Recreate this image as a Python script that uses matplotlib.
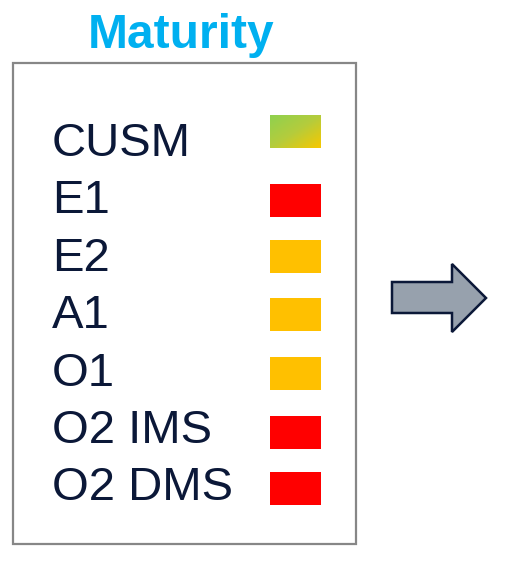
import numpy as np
import matplotlib
matplotlib.use("Agg")
import matplotlib.pyplot as plt
from matplotlib.patches import Rectangle, Polygon
from matplotlib.colors import LinearSegmentedColormap

# ---- data ----
title = "Maturity"
labels = ["CUSM", "E1", "E2", "A1", "O1", "O2 IMS", "O2 DMS"]
status = ["green-yellow", "red", "amber", "amber", "amber", "red", "red"]

status_colors = {"red": "#FF0000", "amber": "#FFC000"}

# ---- layout (pixel coordinates) ----
W, H = 512, 568
fig = plt.figure(figsize=(W / 100, H / 100), dpi=100)
ax = fig.add_axes([0, 0, 1, 1])
ax.set_xlim(0, W)
ax.set_ylim(H, 0)
ax.axis("off")

font = ["Liberation Sans", "DejaVu Sans"]
text_col = "#0B1838"

ax.text(181, 48, title, ha="center", va="baseline", fontsize=34.5,
        fontweight="bold", color="#00B0F0", family=font)

ax.add_patch(Rectangle((13, 63), 343, 481, facecolor="white",
                       edgecolor="#878787", linewidth=1.6))

baseline0, step = 156, 57.4
sq_tops = [116, 184, 240, 298, 357, 416, 472]
sq_x, sq_w, sq_h = 270, 51, 32.5

cmap = LinearSegmentedColormap.from_list("gy", ["#8FD14F", "#B5CC3C", "#F7C800"])
for i, (lab, st) in enumerate(zip(labels, status)):
    ax.text(52, baseline0 + i * step, lab, ha="left", va="baseline",
            fontsize=34, color=text_col, family=font)
    top = sq_tops[i]
    if st == "green-yellow":
        xx, yy = np.meshgrid(np.linspace(0, 1, 60), np.linspace(0, 1, 40))
        grad = np.clip((xx + yy) / 2, 0, 1)
        ax.imshow(grad, cmap=cmap, origin="upper",
                  extent=(sq_x, sq_x + sq_w, top + sq_h, top),
                  aspect="auto", interpolation="bilinear", zorder=3)
    else:
        ax.add_patch(Rectangle((sq_x, top), sq_w, sq_h,
                               facecolor=status_colors[st], edgecolor="none",
                               zorder=3))

ax.set_xlim(0, W)
ax.set_ylim(H, 0)

arrow = Polygon([(392, 282), (452, 282), (452, 264), (486, 298),
                 (452, 332), (452, 313), (392, 313)], closed=True,
                facecolor="#97A1AD", edgecolor="#0B1838", linewidth=1.8,
                joinstyle="miter")
ax.add_patch(arrow)

fig.savefig("out.png", dpi=100, facecolor="white")
